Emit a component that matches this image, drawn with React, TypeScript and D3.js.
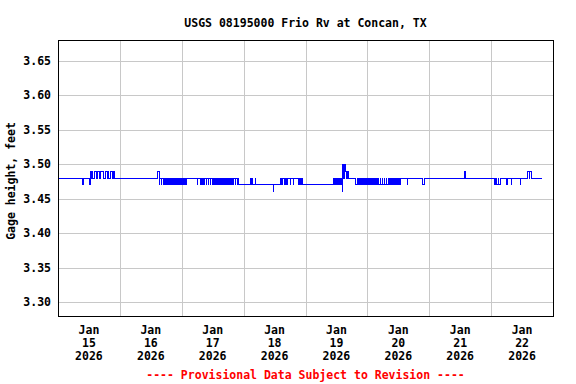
import * as d3 from "d3";

// USGS gage height plot, 15-minute readings.

const title = "USGS 08195000 Frio Rv at Concan, TX";
const yAxisTitle = "Gage height, feet";
const footer = "---- Provisional Data Subject to Revision ----";

const yTicks = [3.3, 3.35, 3.4, 3.45, 3.5, 3.55, 3.6, 3.65];
const dayNumbers = [15, 16, 17, 18, 19, 20, 21, 22];
const monthLabel = "Jan";
const yearLabel = "2026";

// Readings every 15 minutes from midnight, in hundredths of a foot above 3.40 ft.
const jan15 = [
  8, 8, 8, 8, 8, 8, 8, 8, 8, 8, 8, 8, 8, 8, 8, 8, 8, 8, 8, 8, 8, 8, 8, 8, 8, 8, 8, 8, 8, 8, 8, 8,
  8, 8, 8, 8, 8, 8, 7, 8, 8, 8, 8, 8, 8, 8, 8, 8, 8, 7, 8, 9, 8, 9, 8, 8, 8, 9, 9, 9, 8, 9, 9, 9,
  9, 8, 9, 9, 9, 9, 8, 8, 8, 8, 9, 9, 9, 8, 9, 8, 8, 8, 9, 9, 8, 8, 9, 8, 8, 8, 8, 8, 8, 8, 8, 8,
];
const jan16 = [
  8, 8, 8, 8, 8, 8, 8, 8, 8, 8, 8, 8, 8, 8, 8, 8, 8, 8, 8, 8, 8, 8, 8, 8, 8, 8, 8, 8, 8, 8, 8, 8,
  8, 8, 8, 8, 8, 8, 8, 8, 8, 8, 8, 8, 8, 8, 8, 8, 8, 8, 8, 8, 8, 8, 8, 8, 8, 8, 8, 9, 9, 7, 8, 8,
  7, 8, 8, 7, 8, 8, 7, 8, 8, 7, 8, 8, 7, 8, 8, 7, 8, 8, 7, 8, 8, 7, 8, 8, 7, 8, 8, 7, 8, 8, 7, 8,
];
const jan17 = [
  7, 8, 8, 7, 8, 8, 7, 8, 8, 8, 8, 8, 8, 8, 8, 8, 8, 8, 8, 8, 8, 8, 8, 8, 7, 8, 8, 8, 8, 7, 8, 8,
  7, 8, 8, 7, 8, 8, 7, 8, 8, 7, 8, 8, 7, 8, 8, 7, 8, 8, 7, 8, 8, 7, 8, 8, 7, 8, 8, 7, 8, 8, 7, 8,
  8, 7, 8, 8, 7, 8, 8, 7, 8, 8, 7, 8, 8, 7, 8, 8, 7, 8, 8, 7, 8, 8, 7, 8, 7, 7, 7, 7, 7, 7, 7, 7,
];
const jan18 = [
  7, 7, 7, 7, 7, 7, 7, 7, 7, 7, 7, 8, 7, 8, 7, 7, 7, 7, 8, 7, 7, 7, 7, 7, 7, 7, 7, 7, 7, 7, 7, 7,
  7, 7, 7, 7, 7, 7, 7, 7, 7, 7, 7, 7, 7, 7, 6, 7, 7, 7, 7, 7, 7, 7, 7, 7, 7, 8, 7, 8, 7, 8, 8, 7,
  8, 7, 8, 7, 8, 8, 8, 8, 7, 8, 8, 8, 8, 7, 8, 8, 8, 8, 8, 8, 8, 7, 8, 7, 8, 7, 8, 7, 7, 7, 7, 7,
];
const jan19 = [
  7, 7, 7, 7, 7, 7, 7, 7, 7, 7, 7, 7, 7, 7, 7, 7, 7, 7, 7, 7, 7, 7, 7, 7, 7, 7, 7, 7, 7, 7, 7, 7,
  7, 7, 7, 7, 7, 7, 7, 7, 7, 7, 7, 8, 7, 8, 7, 8, 7, 8, 7, 8, 7, 8, 7, 8, 7, 6, 10, 8, 9, 10, 9, 9,
  8, 9, 9, 8, 8, 8, 8, 8, 8, 8, 8, 8, 8, 8, 7, 7, 8, 7, 7, 8, 7, 7, 8, 7, 7, 8, 7, 7, 8, 7, 7, 8,
];
const jan20 = [
  7, 7, 8, 7, 7, 8, 7, 7, 8, 7, 7, 8, 7, 7, 8, 7, 7, 8, 7, 7, 8, 7, 7, 8, 7, 7, 8, 7, 7, 8, 7, 7,
  8, 7, 7, 8, 7, 7, 8, 7, 7, 8, 7, 7, 8, 7, 7, 8, 7, 7, 8, 7, 8, 8, 8, 8, 8, 8, 8, 8, 8, 8, 7, 8,
  8, 8, 8, 8, 8, 8, 8, 8, 8, 8, 8, 8, 8, 8, 8, 8, 8, 8, 8, 8, 8, 8, 7, 7, 7, 8, 8, 8, 8, 8, 8, 8,
];
const jan21 = [
  8, 8, 8, 8, 8, 8, 8, 8, 8, 8, 8, 8, 8, 8, 8, 8, 8, 8, 8, 8, 8, 8, 8, 8, 8, 8, 8, 8, 8, 8, 8, 8,
  8, 8, 8, 8, 8, 8, 8, 8, 8, 8, 8, 8, 8, 8, 8, 8, 8, 8, 8, 8, 8, 8, 8, 9, 8, 8, 8, 8, 8, 8, 8, 8,
  8, 8, 8, 8, 8, 8, 8, 8, 8, 8, 8, 8, 8, 8, 8, 8, 8, 8, 8, 8, 8, 8, 8, 8, 8, 8, 8, 8, 8, 8, 8, 8,
];
const jan22 = [
  8, 8, 8, 8, 8, 7, 7, 8, 7, 7, 7, 8, 7, 7, 7, 8, 8, 8, 8, 8, 8, 8, 8, 8, 7, 7, 8, 8, 8, 8, 8, 7,
  8, 8, 8, 8, 8, 8, 8, 8, 8, 8, 8, 8, 8, 7, 8, 8, 8, 8, 8, 8, 8, 8, 8, 8, 8, 9, 9, 8, 9, 9, 8, 8,
  8, 8, 8, 8, 8, 8, 8, 8, 8, 8, 8, 8, 8, 8, 8, 8,
];

const days = [jan15, jan16, jan17, jan18, jan19, jan20, jan21, jan22];

const WIDTH = 576;
const HEIGHT = 384;
const PLOT = { left: 58, right: 553, top: 40, bottom: 316 };
const FONT = "'DejaVu Sans Mono', monospace";
const GRID = "#c8c8c8";

type Reading = { t: Date; v: number };

const readings: Reading[] = days.flatMap((vals, d) =>
  vals.map((h, i) => ({
    t: new Date(2026, 0, dayNumbers[d], 0, i * 15),
    v: 3.4 + h / 100,
  })),
);

export default function App() {
  const x = d3
    .scaleTime()
    .domain([new Date(2026, 0, 15), new Date(2026, 0, 23)])
    .range([PLOT.left, PLOT.right]);
  const y = d3.scaleLinear().domain([3.28, 3.68]).range([PLOT.bottom, PLOT.top]);

  const line = d3
    .line<Reading>()
    .x((d) => x(d.t))
    .y((d) => y(d.v))
    .curve(d3.curveStepAfter);

  const midnights = dayNumbers.slice(1).map((n) => new Date(2026, 0, n));
  const cx = (PLOT.left + PLOT.right) / 2;
  const cy = (PLOT.top + PLOT.bottom) / 2;

  return (
    <svg
      width={WIDTH}
      height={HEIGHT}
      style={{ position: "absolute", left: 0, top: 0, background: "#fff" }}
      fontFamily={FONT}
      fontWeight="bold"
      fontSize={11.5}
    >
      <rect width={WIDTH} height={HEIGHT} fill="#fff" />
      <text x={cx} y={27} textAnchor="middle" fill="#000">
        {title}
      </text>

      {/* grid */}
      <g stroke={GRID} strokeWidth={1} shapeRendering="crispEdges">
        {yTicks.map((t) => (
          <line key={t} x1={PLOT.left} x2={PLOT.right} y1={Math.round(y(t)) + 0.5} y2={Math.round(y(t)) + 0.5} />
        ))}
        {midnights.map((m) => (
          <line key={+m} x1={Math.round(x(m)) + 0.5} x2={Math.round(x(m)) + 0.5} y1={PLOT.top} y2={PLOT.bottom} />
        ))}
      </g>

      {/* data */}
      <path
        d={line(readings) ?? ""}
        fill="none"
        stroke="#0000ff"
        strokeWidth={1}
        shapeRendering="crispEdges"
      />

      {/* frame */}
      <rect
        x={PLOT.left + 0.5}
        y={PLOT.top + 0.5}
        width={PLOT.right - PLOT.left}
        height={PLOT.bottom - PLOT.top}
        fill="none"
        stroke="#000"
        shapeRendering="crispEdges"
      />

      {/* y axis labels */}
      {yTicks.map((t) => (
        <text key={t} x={51} y={y(t)} dy="0.36em" textAnchor="end" fill="#000">
          {t.toFixed(2)}
        </text>
      ))}
      <text
        transform={`translate(15,${cy + 3}) rotate(-90)`}
        textAnchor="middle"
        fill="#000"
      >
        {yAxisTitle}
      </text>

      {/* x axis labels at noon of each day */}
      {dayNumbers.map((n) => {
        const px = x(new Date(2026, 0, n, 12));
        return (
          <text key={n} x={px} textAnchor="middle" fill="#000">
            <tspan x={px} y={334}>{monthLabel}</tspan>
            <tspan x={px} y={347}>{n}</tspan>
            <tspan x={px} y={360}>{yearLabel}</tspan>
          </text>
        );
      })}

      <text x={cx} y={379} textAnchor="middle" fill="#ff0000">
        {footer}
      </text>
    </svg>
  );
}
